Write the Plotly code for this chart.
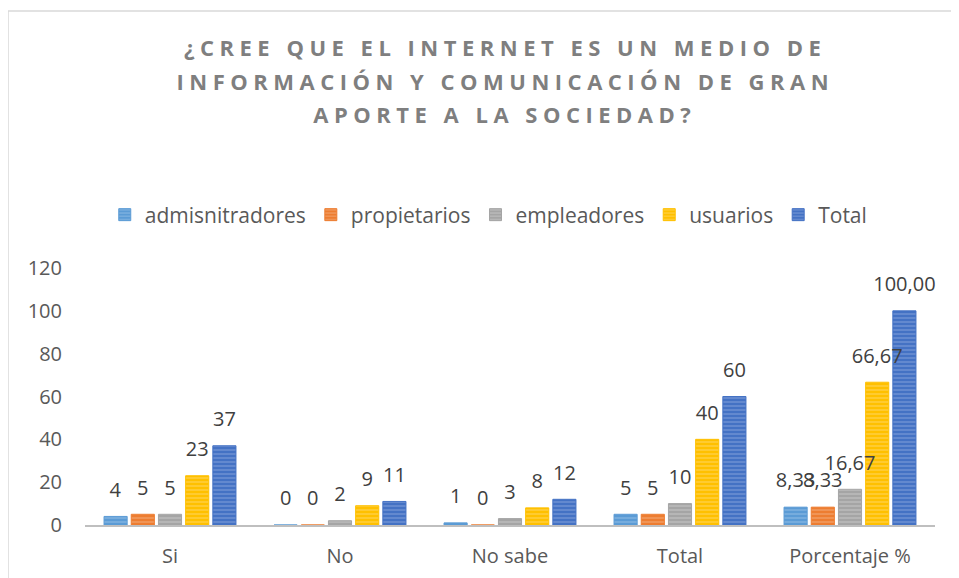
import plotly.graph_objects as go

categories = ['Si', 'No', 'No sabe', 'Total', 'Porcentaje %']
series_names = ['admisnitradores', 'propietarios', 'empleadores', 'usuarios', 'Total']

admisnitradores = [4, 0, 1, 5, 8.33]
propietarios = [5, 0, 0, 5, 8.33]
empleadores = [5, 2, 3, 10, 16.67]
usuarios = [23, 9, 8, 40, 66.67]
total = [37, 11, 12, 60, 100.00]

y_ticks = [0, 20, 40, 60, 80, 100, 120]

title_lines = ['¿CREE QUE EL INTERNET ES UN MEDIO DE',
               'INFORMACIÓN Y COMUNICACIÓN DE GRAN',
               'APORTE A LA SOCIEDAD?']

colors = ['#5B9BD5', '#ED7D31', '#A5A5A5', '#FFC000', '#4472C4']
stripe_colors = ['#A9CBEA', '#F6BE98', '#D6D6D6', '#FFE08A', '#9DB5E3']

LABEL_GAP = 5  # empty space (in axis units) between a bar top and its label


def label(values):
    # integers for counts, two decimals with comma for the percentage row
    out = []
    for i, v in enumerate(values):
        if categories[i] == 'Porcentaje %':
            out.append(f'{v:.2f}'.replace('.', ','))
        else:
            out.append(str(int(v)))
    return out


all_values = [admisnitradores, propietarios, empleadores, usuarios, total]

fig = go.Figure()

for name, values, color, stripe in zip(series_names, all_values, colors, stripe_colors):
    fig.add_trace(go.Bar(
        x=categories,
        y=values,
        name=name,
        offsetgroup=name,
        marker=dict(
            color=color,
            line=dict(color=color, width=1),
            pattern=dict(shape='-', fgcolor=stripe, bgcolor=color, size=4, solidity=0.35),
        ),
        hovertemplate='%{x}: %{y}<extra>' + name + '</extra>',
    ))

# invisible spacers on top of the bars carry the data labels (added last so
# the labels are drawn over every bar, like in the original)
for name, values in zip(series_names, all_values):
    fig.add_trace(go.Bar(
        x=categories,
        y=[LABEL_GAP] * len(values),
        base=values,
        offsetgroup=name,
        showlegend=False,
        hoverinfo='skip',
        marker=dict(color='rgba(0,0,0,0)', line=dict(width=0)),
        text=label(values),
        textposition='outside',
        constraintext='none',
        cliponaxis=False,
        textfont=dict(size=20, color='#404040', family='Open Sans'),
    ))

# title, one annotation per line so the line spacing matches
for i, line in enumerate(title_lines):
    fig.add_annotation(
        text=line, xref='paper', yref='paper',
        x=(505 - 85) / 850, y=(525 - [47, 81, 114][i]) / 257,
        xanchor='center', yanchor='middle', showarrow=False,
        font=dict(size=22, color='#7F7F7F', family='Open Sans', weight='bold'),
    )

# light frame around the chart area
fig.add_shape(type='rect', xref='paper', yref='paper',
              x0=(8 - 85) / 850, x1=(964 - 85) / 850,
              y0=(525 - 590) / 257, y1=(525 - 11) / 257,
              line=dict(color='#D9D9D9', width=1.5), layer='below')

fig.update_layout(
    width=959,
    height=578,
    barmode='group',
    bargap=0.2,
    bargroupgap=0.15,
    showlegend=True,
    legend=dict(
        orientation='h', x=0.475, xanchor='center',
        y=(525 - 215) / 257, yanchor='middle',
        font=dict(size=21, color='#595959', family='Open Sans'),
        itemwidth=30, traceorder='normal',
    ),
    xaxis=dict(
        showline=True, linecolor='#BFBFBF', linewidth=2,
        tickfont=dict(size=20, color='#595959', family='Open Sans'),
        ticks='', showgrid=False, automargin=False, ticklabelstandoff=12,
    ),
    yaxis=dict(
        range=[0, 120], tickvals=y_ticks, showgrid=False, zeroline=False,
        tickfont=dict(size=20, color='#595959', family='Open Sans'),
        ticks='', automargin=False, ticklabelstandoff=22,
    ),
    # the page adds 8px around the figure, margins account for it
    margin=dict(l=77, r=32, t=260, b=61),
    plot_bgcolor='white',
    paper_bgcolor='white',
)

spacing_js = """
document.querySelectorAll('.annotation-text').forEach(function (t) {
    t.style.letterSpacing = '5.5px';
});
"""

fig.write_html("out.html", post_script=spacing_js)
